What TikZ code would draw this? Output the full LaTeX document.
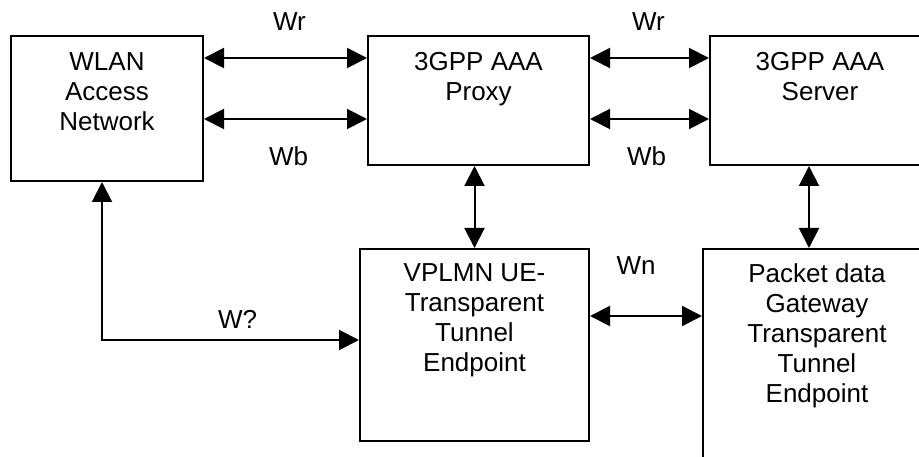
\documentclass[tikz,border=0pt]{standalone}
\usepackage{fontspec}
\setmainfont{Liberation Sans}
\usetikzlibrary{arrows.meta,calc}
\tikzset{
	box/.style={draw, line width=2pt, inner sep=0pt},
	boxtext/.style={anchor=north, align=center, inner sep=0pt, font=\fontsize{26}{30}\selectfont},
	link/.style={line width=2pt, {Triangle[length=20pt,width=20pt]}-{Triangle[length=20pt,width=20pt]}},
	tag/.style={inner sep=0pt, anchor=base, font=\fontsize{26}{30}\selectfont}
}

\begin{document}
\begin{tikzpicture}[x=1pt, y=1pt]
		%%%%% START %%%%%
		\useasboundingbox (0, 0) rectangle (919, 456);
		\clip (0, 0) rectangle (919, 456);
		
		\node[box, minimum width=192pt, minimum height=145pt] (wlan) at (107, 347.5) {};
		\node[box, minimum width=221pt, minimum height=129pt] (proxy) at (478.5, 355.5) {};
		\node[box, minimum width=240pt, minimum height=129pt] (server) at (830, 355.5) {};
		\node[box, minimum width=229pt, minimum height=192pt] (vplmn) at (474.5, 111) {};
		\node[box, minimum width=248pt, minimum height=240pt] (pdg) at (827, 87) {};
		
		\node[boxtext] (wlantext) at ([yshift=-17pt]wlan.north) {WLAN\\Access\\Network};
		\node[boxtext] (proxytext) at ([yshift=-17pt]proxy.north) {3GPP AAA\\Proxy};
		\node[boxtext] (servertext) at ([xshift=-10pt, yshift=-17pt]server.north) {3GPP AAA\\Server};
		\node[boxtext] (vplmntext) at ([yshift=-15pt]vplmn.north) {VPLMN UE-\\Transparent\\Tunnel\\Endpoint};
		\node[boxtext] (pdgtext) at ([xshift=-10pt, yshift=-15pt]pdg.north) {Packet data\\Gateway\\Transparent\\Tunnel\\Endpoint};
		
		\draw[link] ([yshift=-23pt]wlan.north east) -- ([yshift=-23pt]proxy.north west)
			node[tag, midway, xshift=4pt, yshift=27pt] (wr1) {Wr};
		\draw[link] ([yshift=-84pt]wlan.north east) -- ([yshift=-84pt]proxy.north west)
			node[tag, midway, xshift=3pt, yshift=-47pt] (wb1) {Wb};
		\draw[link] ([yshift=-23pt]proxy.north east) -- ([yshift=-23pt]server.north west)
			node[tag, midway, xshift=-1pt, yshift=27pt] (wr2) {Wr};
		\draw[link] ([yshift=-84pt]proxy.north east) -- ([yshift=-84pt]server.north west)
			node[tag, midway, xshift=-3pt, yshift=-47pt] (wb2) {Wb};
		
		\draw[link] (vplmn.north |- proxy.south) -- (vplmn.north);
		\draw[link] ([xshift=-21pt]server.south) -- ([xshift=-21pt]server.south |- pdg.north);
		
		\draw[link] ([yshift=-68pt]vplmn.north east) -- ([yshift=-68pt]pdg.north west)
			node[tag, midway, xshift=-10pt, yshift=42pt] (wn) {Wn};
		\draw[link] ([xshift=-5pt]wlan.south) |- ([yshift=5pt]vplmn.west)
			node[tag, pos=0.75, xshift=7pt, yshift=12pt] (wq) {W?};
		
		%%%%% END %%%%%
	\end{tikzpicture}
\end{document}
